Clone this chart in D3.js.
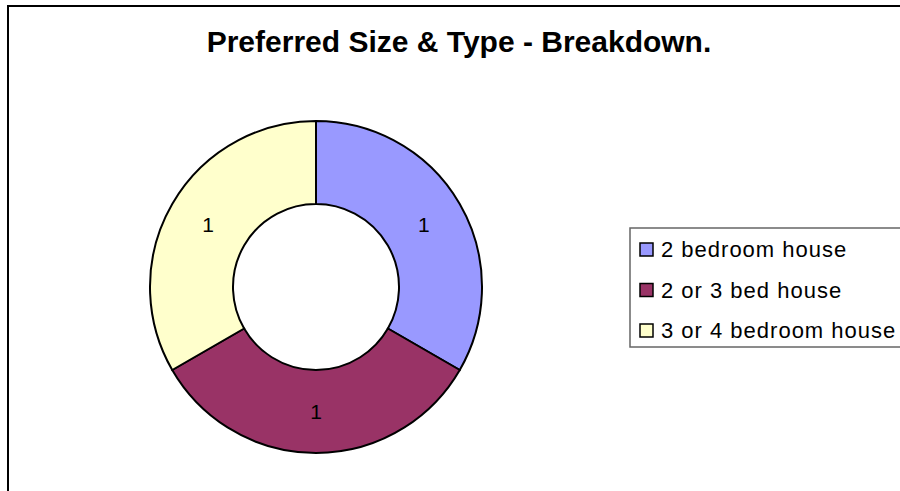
<!DOCTYPE html>
<html lang="en">
<head>
  <meta charset="UTF-8">
  <title>Preferred Size & Type - Breakdown.</title>
  <script src="https://d3js.org/d3.v7.min.js"></script>
  <style>
    * {
      margin: 0;
      padding: 0;
      box-sizing: border-box;
    }

    body {
      width: 900px;
      height: 491px;
      overflow: hidden;
      background: #fff;
      font-family: "Liberation Sans", Arial, sans-serif;
    }
  </style>
</head>
<body>
  <div id="chart"></div>

  <script>
    // Data
    const categories = ['2 bedroom house', '2 or 3 bed house', '3 or 4 bedroom house'];
    const values = [1, 1, 1];
    const colors = ['#9999FF', '#993366', '#FFFFCC'];
    const title = 'Preferred Size & Type - Breakdown.';

    const width = 900;
    const height = 491;

    const svg = d3.select('#chart')
      .append('svg')
      .attr('width', width)
      .attr('height', height);

    // Chart frame (runs off the right and bottom edges)
    svg.append('rect')
      .attr('x', 8)
      .attr('y', 6)
      .attr('width', 1000)
      .attr('height', 600)
      .attr('fill', '#fff')
      .attr('stroke', '#000')
      .attr('stroke-width', 2);

    // Title
    svg.append('text')
      .attr('x', 459)
      .attr('y', 52)
      .attr('text-anchor', 'middle')
      .style('font-size', '30px')
      .style('font-weight', 'bold')
      .text(title);

    // Donut
    const cx = 316, cy = 287;
    const outerR = 166, innerR = 83;

    const color = d3.scaleOrdinal().domain(categories).range(colors);

    const data = categories.map((c, i) => ({ name: c, value: values[i] }));

    const pie = d3.pie().sort(null).value(d => d.value);
    const arc = d3.arc().innerRadius(innerR).outerRadius(outerR);

    const g = svg.append('g')
      .attr('transform', `translate(${cx}, ${cy})`);

    g.selectAll('path')
      .data(pie(data))
      .enter()
      .append('path')
      .attr('d', arc)
      .attr('fill', d => color(d.data.name))
      .attr('stroke', '#000')
      .attr('stroke-width', 2);

    g.selectAll('text')
      .data(pie(data))
      .enter()
      .append('text')
      .attr('transform', d => `translate(${arc.centroid(d)})`)
      .attr('text-anchor', 'middle')
      .attr('dy', '0.35em')
      .style('font-size', '21px')
      .text(d => d.data.value);

    // Legend
    const legendY = d3.scalePoint()
      .domain(categories)
      .range([250, 331]);

    svg.append('rect')
      .attr('x', 630)
      .attr('y', 228)
      .attr('width', 320)
      .attr('height', 119)
      .attr('fill', '#fff')
      .attr('stroke', '#666')
      .attr('stroke-width', 1.5);

    const items = svg.selectAll('.legend-item')
      .data(categories)
      .enter()
      .append('g')
      .attr('class', 'legend-item')
      .attr('transform', d => `translate(640, ${legendY(d)})`);

    items.append('rect')
      .attr('x', 0)
      .attr('y', -7)
      .attr('width', 13)
      .attr('height', 13)
      .attr('fill', d => color(d))
      .attr('stroke', '#000')
      .attr('stroke-width', 1.5);

    items.append('text')
      .attr('x', 21)
      .attr('dy', '0.33em')
      .style('font-size', '22px')
      .style('letter-spacing', '1px')
      .text(d => d);
  </script>
</body>
</html>
